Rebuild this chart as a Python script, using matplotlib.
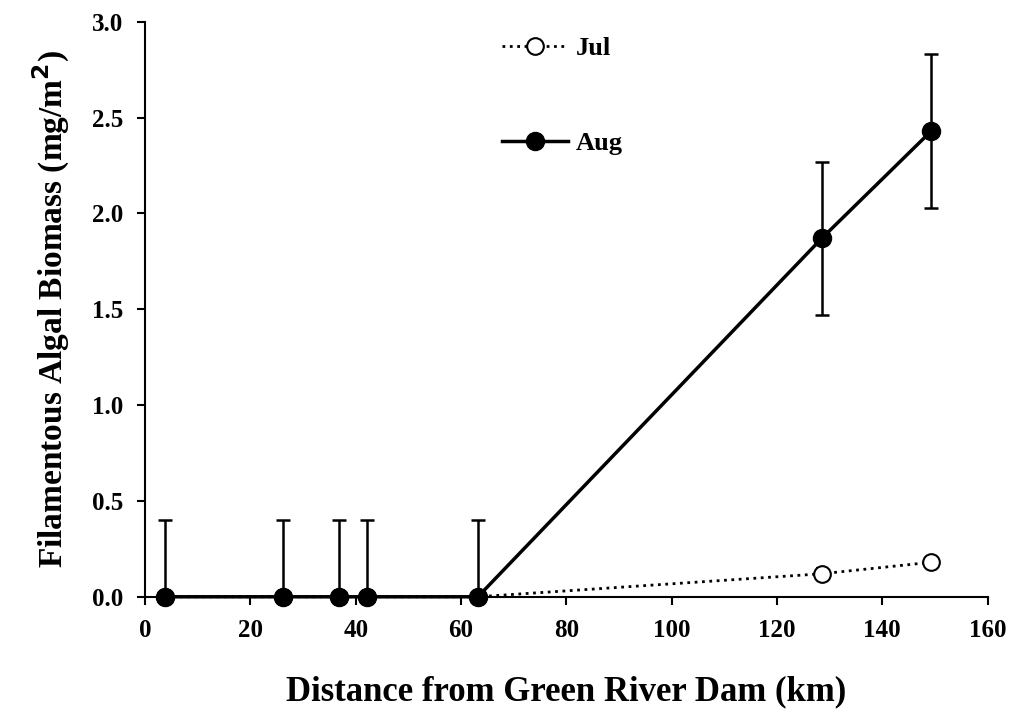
import matplotlib
matplotlib.use("Agg")
import matplotlib.pyplot as plt
from matplotlib.lines import Line2D

distance = [3.8, 26.2, 36.8, 42.1, 63.2, 128.5, 149.3]
jul = [0.0, 0.0, 0.0, 0.0, 0.0, 0.12, 0.18]
jul_err = [0.0, 0.0, 0.0, 0.0, 0.0, 0.03, 0.03]
aug = [0.0, 0.0, 0.0, 0.0, 0.0, 1.87, 2.43]
aug_err = [0.40, 0.40, 0.40, 0.40, 0.40, 0.40, 0.40]
xticks = [0, 20, 40, 60, 80, 100, 120, 140, 160]
yticks = [0.0, 0.5, 1.0, 1.5, 2.0, 2.5, 3.0]

plt.rcParams['font.family'] = ['Liberation Serif']
plt.rcParams['font.weight'] = 'bold'

fig = plt.figure(figsize=(10.15, 7.26), dpi=100)
ax = fig.add_axes([0.143, 0.178, 0.830, 0.792])

jul_style = dict(marker='o', linestyle=':', color='black', mfc='white', mec='black',
                 mew=1.5, ms=12, lw=2)
aug_style = dict(marker='o', linestyle='-', color='black', ms=13, lw=2.5)

c1 = ax.errorbar(distance, jul, yerr=jul_err, capsize=4, elinewidth=1.2,
                 zorder=3, **jul_style)
c2 = ax.errorbar(distance, aug, yerr=aug_err, capsize=5, elinewidth=1.8,
                 capthick=1.8, zorder=4, **aug_style)
for c in (c1, c2):
    c.lines[0].set_clip_on(False)

ax.set_xlim(0, 160)
ax.set_ylim(0, 3.0)
ax.set_xticks(xticks)
ax.set_yticks(yticks)
ax.set_yticklabels([f"{v:.1f}" for v in yticks])
ax.spines['top'].set_visible(False)
ax.spines['right'].set_visible(False)
ax.spines['left'].set_linewidth(1.5)
ax.spines['bottom'].set_linewidth(1.5)
ax.tick_params(direction='out', length=6, width=1.5, labelsize=18, pad=10)
for lab in ax.get_xticklabels() + ax.get_yticklabels():
    lab.set_fontweight('bold')

ax.set_xlabel('Distance from Green River Dam (km)', fontsize=25, fontweight='bold', labelpad=24)
ax.set_ylabel('Filamentous Algal Biomass (mg/m$^\\mathbf{2}$)', fontsize=24, fontweight='bold', labelpad=14)

handles = [Line2D([], [], **jul_style), Line2D([], [], **aug_style)]
ax.legend(handles, ['Jul', 'Aug'], loc='upper left', bbox_to_anchor=(0.395, 1.015), frameon=False,
          labelspacing=2.7, handlelength=2.5, handletextpad=0.3,
          prop={'size': 19, 'weight': 'bold'})

fig.savefig('out.png', dpi=100)
